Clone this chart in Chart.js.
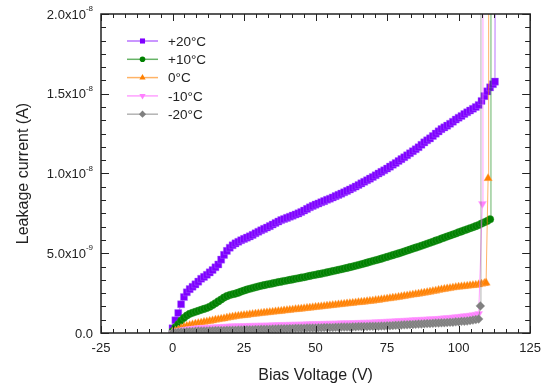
<!DOCTYPE html>
<html>
<head>
<meta charset="utf-8">
<script src="https://cdn.jsdelivr.net/npm/chart.js@4.4.0/dist/chart.umd.min.js"></script>
<style>
  html, body { margin: 0; padding: 0; background: #fff; }
  #wrap { width: 549px; height: 388px; }
</style>
</head>
<body>
<div id="wrap"><canvas id="chart" width="549" height="388"></canvas></div>
<script>
// --- data (current in nA, 1 V steps) ---
const voltage = [
    0,1,2,3,4,5,6,7,8,9,10,11,12,13,14,15,16,17,18,19,20,21,22,23,24,25,26,27,28,29,
    30,31,32,33,34,35,36,37,38,39,40,41,42,43,44,45,46,47,48,49,50,51,52,53,54,55,56,57,58,59,
    60,61,62,63,64,65,66,67,68,69,70,71,72,73,74,75,76,77,78,79,80,81,82,83,84,85,86,87,88,89,
    90,91,92,93,94,95,96,97,98,99,100,101,102,103,104,105,106
];

const iPlus20 = [
    0.3,0.8,1.25,1.8,2.26,2.55,2.75,2.9,3.05,3.22,
    3.4,3.52,3.65,3.8,3.95,4.12,4.3,4.6,4.9,5.15,
    5.35,5.5,5.62,5.72,5.82,5.9,5.98,6.06,6.15,6.25,
    6.35,6.44,6.53,6.61,6.7,6.8,6.9,6.99,7.08,7.15,
    7.22,7.29,7.36,7.43,7.5,7.59,7.68,7.78,7.88,7.97,
    8.05,8.12,8.2,8.27,8.35,8.42,8.5,8.58,8.66,8.74,
    8.82,8.91,9.0,9.09,9.18,9.28,9.38,9.48,9.58,9.68,
    9.78,9.89,10.0,10.1,10.2,10.31,10.43,10.55,10.66,10.78,
    10.9,11.02,11.14,11.27,11.4,11.52,11.65,11.8,11.95,12.08,
    12.2,12.35,12.5,12.64,12.78,12.89,13.0,13.12,13.25,13.38,
    13.5,13.61,13.73,13.84,13.95,14.06,14.17
];
const iPlus10 = [
    0.1,0.35,0.55,0.78,0.95,1.1,1.2,1.27,1.33,1.39,
    1.45,1.51,1.57,1.65,1.75,1.86,1.98,2.1,2.22,2.31,
    2.38,2.43,2.47,2.53,2.6,2.66,2.72,2.77,2.82,2.87,
    2.92,2.96,3.0,3.04,3.07,3.11,3.15,3.19,3.22,3.26,
    3.29,3.33,3.36,3.4,3.43,3.47,3.5,3.54,3.58,3.62,
    3.65,3.69,3.72,3.76,3.8,3.84,3.88,3.92,3.96,4.0,
    4.04,4.08,4.13,4.17,4.22,4.26,4.31,4.36,4.41,4.46,
    4.51,4.56,4.61,4.66,4.72,4.77,4.83,4.88,4.94,4.99,
    5.05,5.11,5.17,5.23,5.29,5.35,5.41,5.47,5.53,5.6,
    5.66,5.72,5.79,5.85,5.92,5.98,6.05,6.11,6.18,6.24,
    6.31,6.37,6.44,6.5,6.57,6.63,6.7
];
const iZero = [
    0.05,0.12,0.2,0.29,0.37,0.43,0.48,0.53,0.57,0.61,
    0.64,0.68,0.71,0.75,0.78,0.82,0.85,0.88,0.91,0.95,
    0.98,1.01,1.04,1.07,1.09,1.11,1.13,1.16,1.18,1.2,
    1.22,1.24,1.26,1.28,1.3,1.32,1.34,1.36,1.38,1.4,
    1.42,1.44,1.46,1.48,1.5,1.52,1.54,1.56,1.58,1.6,
    1.62,1.64,1.66,1.68,1.7,1.72,1.74,1.76,1.78,1.8,
    1.82,1.84,1.86,1.88,1.9,1.92,1.94,1.96,1.98,2.0,
    2.02,2.05,2.07,2.1,2.12,2.15,2.17,2.2,2.22,2.25,
    2.28,2.31,2.34,2.37,2.4,2.43,2.46,2.49,2.52,2.55,
    2.58,2.62,2.65,2.69,2.72,2.75,2.78,2.81,2.84,2.87,
    2.89,2.91,2.93,2.95,2.97,2.99,3.01
];
const iMinus10 = [
    0,0.06,0.12,0.16,0.2,0.23,0.25,0.27,0.29,0.31,
    0.32,0.33,0.34,0.35,0.36,0.37,0.38,0.39,0.4,0.41,
    0.42,0.43,0.43,0.44,0.44,0.45,0.45,0.46,0.46,0.47,
    0.47,0.48,0.48,0.49,0.49,0.5,0.5,0.51,0.51,0.52,
    0.52,0.53,0.53,0.54,0.54,0.55,0.55,0.56,0.56,0.57,
    0.57,0.58,0.58,0.59,0.59,0.6,0.6,0.61,0.61,0.62,
    0.62,0.63,0.63,0.64,0.64,0.65,0.65,0.66,0.66,0.67,
    0.67,0.68,0.69,0.7,0.71,0.72,0.73,0.74,0.75,0.76,
    0.77,0.78,0.79,0.8,0.81,0.82,0.83,0.84,0.85,0.86,
    0.87,0.88,0.89,0.9,0.92,0.93,0.95,0.96,0.98,1.0,
    1.02,1.04,1.06,1.08,1.1,1.13,1.16
];
const iMinus20 = [
    0,0.02,0.04,0.06,0.07,0.08,0.09,0.1,0.11,0.12,
    0.12,0.13,0.13,0.14,0.14,0.15,0.15,0.16,0.16,0.17,
    0.17,0.18,0.18,0.19,0.19,0.2,0.2,0.21,0.21,0.22,
    0.22,0.23,0.23,0.24,0.24,0.25,0.25,0.26,0.26,0.27,
    0.27,0.28,0.28,0.29,0.29,0.3,0.3,0.31,0.31,0.32,
    0.32,0.33,0.33,0.34,0.34,0.35,0.35,0.36,0.36,0.37,
    0.37,0.38,0.38,0.39,0.39,0.4,0.4,0.41,0.41,0.42,
    0.42,0.43,0.43,0.44,0.44,0.45,0.46,0.47,0.48,0.49,
    0.5,0.51,0.52,0.53,0.54,0.55,0.56,0.57,0.58,0.59,
    0.6,0.61,0.62,0.63,0.64,0.65,0.66,0.67,0.68,0.7,
    0.71,0.73,0.74,0.76,0.78,0.81,0.84
];

// breakdown tails (last points before the current runs off the top)
const tailPlus20V = [107,108,109,110,111,112,112.7,112.9];
const tailPlus20I = [14.3,14.55,14.85,15.15,15.4,15.6,15.76,40];
const tailPlus10V = [107,108,109,110,111,111.3];
const tailPlus10I = [6.77,6.86,6.94,7.02,7.13,40];
const tailZeroV = [107,108,109,109.6,110.3,110.5];
const tailZeroI = [3.04,3.08,3.12,3.15,9.7,40];
const tailMinus10V = [107,108.3,108.5];
const tailMinus10I = [1.2,8.1,40];
const tailMinus20V = [107,107.6,107.8];
const tailMinus20I = [0.88,1.7,40];

const seriesNames = ['+20\u00B0C', '+10\u00B0C', '0\u00B0C', '-10\u00B0C', '-20\u00B0C'];
const xTicks = [-25, 0, 25, 50, 75, 100, 125];
const yTicks = [0, 5e-9, 1e-8, 1.5e-8, 2e-8];
const yTickLabels = [['0.0', ''], ['5.0x10', '-9'], ['1.0x10', '-8'], ['1.5x10', '-8'], ['2.0x10', '-8']];

const FONT = "'Liberation Sans', Arial, sans-serif";
const TEXT = '#222';

function buildPoints(vals, tailV, tailI) {
    const pts = voltage.map((v, i) => ({ x: v, y: vals[i] * 1e-9 }));
    tailV.forEach((v, i) => pts.push({ x: v, y: tailI[i] * 1e-9 }));
    return pts;
}

const styles = [
    { color: '#7f00ff', line: 'rgba(127,0,255,0.55)', edge: 'rgba(170,110,255,0.4)', point: 'rect', radius: 5.0, legendRadius: 3.6, rotation: 0 },
    { color: '#008000', line: 'rgba(0,128,0,0.6)', edge: 'rgba(60,160,60,0.4)', point: 'circle', radius: 3.8, legendRadius: 2.8, rotation: 0 },
    { color: '#ff8000', line: 'rgba(255,128,0,0.6)', edge: 'rgba(255,170,90,0.4)', point: 'triangle', radius: 4.8, legendRadius: 3.6, rotation: 0 },
    { color: '#ff80ff', line: 'rgba(255,128,255,0.75)', edge: 'rgba(255,170,255,0.45)', point: 'triangle', radius: 4.6, legendRadius: 3.6, rotation: 180 },
    { color: '#808080', line: 'rgba(128,128,128,0.6)', edge: 'rgba(160,160,160,0.4)', point: 'rectRot', radius: 4.5, legendRadius: 3.6, rotation: 0 }
];

const allPoints = [
    buildPoints(iPlus20, tailPlus20V, tailPlus20I),
    buildPoints(iPlus10, tailPlus10V, tailPlus10I),
    buildPoints(iZero, tailZeroV, tailZeroI),
    buildPoints(iMinus10, tailMinus10V, tailMinus10I),
    buildPoints(iMinus20, tailMinus20V, tailMinus20I)
];

const datasets = allPoints.map((pts, i) => ({
    label: seriesNames[i],
    data: pts,
    showLine: true,
    borderColor: styles[i].line,
    borderWidth: 1,
    backgroundColor: styles[i].color,
    pointBackgroundColor: styles[i].color,
    pointBorderColor: styles[i].edge,
    pointBorderWidth: 1,
    pointStyle: styles[i].point,
    pointRadius: styles[i].radius,
    pointRotation: styles[i].rotation,
    order: 4 - i
}));

function drawMarker(ctx, st, x, y) {
    ctx.fillStyle = st.color;
    if (Chart.helpers && Chart.helpers.drawPoint) {
        Chart.helpers.drawPoint(ctx, { pointStyle: st.point, radius: st.legendRadius, rotation: st.rotation, borderWidth: 0 }, x, y);
    } else {
        ctx.beginPath();
        ctx.arc(x, y, st.legendRadius, 0, Math.PI * 2);
        ctx.fill();
    }
}

// frame, inward ticks, y labels, titles, legend
const decorPlugin = {
    id: 'decor',
    afterDatasetsDraw(chart) {
        const { ctx, chartArea: a, scales: { x, y } } = chart;
        ctx.save();

        // inward ticks on all four sides
        ctx.strokeStyle = '#222';
        ctx.lineWidth = 1;
        for (let i = 0; i <= 36; i++) {
            const px = Math.round(x.getPixelForValue(-25 + i * 25 / 6)) + 0.5;
            const len = i % 6 === 0 ? 7 : 4;
            ctx.beginPath();
            ctx.moveTo(px, a.bottom); ctx.lineTo(px, a.bottom - len);
            ctx.moveTo(px, a.top); ctx.lineTo(px, a.top + len);
            ctx.stroke();
        }
        for (let i = 0; i <= 24; i++) {
            const py = Math.round(y.getPixelForValue(i * 5e-9 / 6)) + 0.5;
            const len = i % 6 === 0 ? 8 : 5;
            ctx.beginPath();
            ctx.moveTo(a.left, py); ctx.lineTo(a.left + len, py);
            ctx.moveTo(a.right, py); ctx.lineTo(a.right - len, py);
            ctx.stroke();
        }

        // frame
        ctx.lineWidth = 1.5;
        ctx.strokeRect(a.left, a.top, a.right - a.left, a.bottom - a.top);

        // y tick labels with superscript exponent
        ctx.fillStyle = TEXT;
        ctx.textBaseline = 'middle';
        yTicks.forEach((v, i) => {
            const py = y.getPixelForValue(v) + 1;
            const [main, exp] = yTickLabels[i];
            let right = a.left - 8;
            ctx.textAlign = 'right';
            if (exp) {
                ctx.font = '8px ' + FONT;
                ctx.fillText(exp, right, py - 6);
                right -= ctx.measureText(exp).width;
            }
            ctx.font = '13px ' + FONT;
            ctx.fillText(main, right, py);
        });

        // axis titles
        ctx.font = '16px ' + FONT;
        ctx.textAlign = 'center';
        ctx.fillText('Bias Voltage (V)', (a.left + a.right) / 2, 376);
        ctx.save();
        ctx.translate(24, (a.top + a.bottom) / 2);
        ctx.rotate(-Math.PI / 2);
        ctx.fillText('Leakage current (A)', 0, 0);
        ctx.restore();

        // legend
        ctx.font = '13.5px ' + FONT;
        ctx.textAlign = 'left';
        seriesNames.forEach((name, i) => {
            const ly = 41 + i * 18.3;
            ctx.strokeStyle = styles[i].line;
            ctx.lineWidth = 1.5;
            ctx.beginPath();
            ctx.moveTo(127, ly); ctx.lineTo(158, ly);
            ctx.stroke();
            drawMarker(ctx, styles[i], 142.5, ly);
            ctx.fillStyle = TEXT;
            ctx.fillText(name, 168, ly + 1);
        });

        ctx.restore();
    }
};

document.addEventListener('DOMContentLoaded', () => {
    const ctx = document.getElementById('chart').getContext('2d');
    new Chart(ctx, {
        type: 'scatter',
        data: { datasets: datasets },
        options: {
            responsive: false,
            animation: false,
            devicePixelRatio: 1,
            layout: { padding: { left: 0, right: 16, top: 14, bottom: 0 } },
            plugins: { legend: { display: false }, tooltip: { enabled: false } },
            scales: {
                x: {
                    type: 'linear',
                    min: -25,
                    max: 125,
                    afterBuildTicks: (scale) => { scale.ticks = xTicks.map(v => ({ value: v })); },
                    afterFit: (scale) => { scale.height = 55; },
                    grid: { display: false, drawTicks: false },
                    border: { display: false },
                    ticks: { color: TEXT, font: { family: FONT, size: 13 }, padding: 8, maxRotation: 0 }
                },
                y: {
                    type: 'linear',
                    min: 0,
                    max: 2e-8,
                    afterBuildTicks: (scale) => { scale.ticks = yTicks.map(v => ({ value: v })); },
                    afterFit: (scale) => { scale.width = 101; },
                    grid: { display: false, drawTicks: false },
                    border: { display: false },
                    ticks: { display: false }
                }
            }
        },
        plugins: [decorPlugin]
    });
});
</script>
</body>
</html>
